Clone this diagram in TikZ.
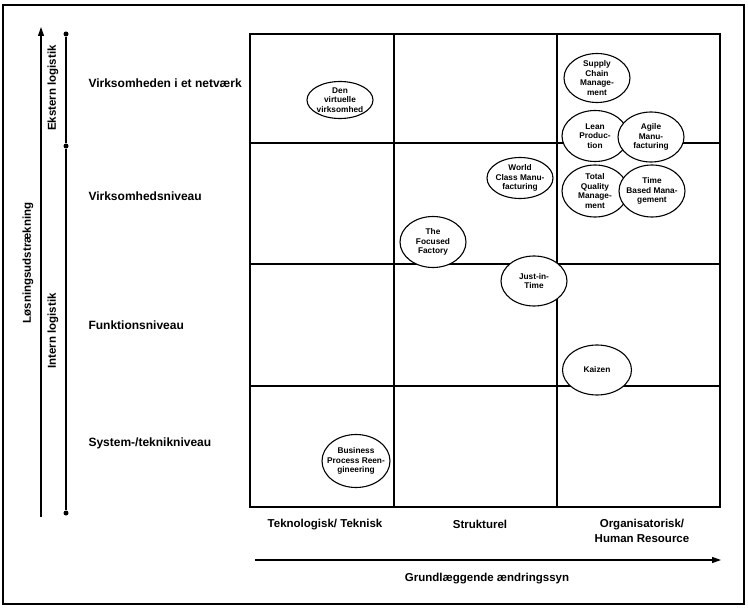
\documentclass[tikz,border=0pt]{standalone}
\usepackage{fontspec}
\setmainfont{Liberation Sans}
\usetikzlibrary{shapes.geometric,arrows.meta}
\begin{document}
\begin{tikzpicture}[x=1pt,y=-1pt,
    blob/.style = {draw, ellipse, fill=white, line width=1.1pt, inner sep=-9pt,
        minimum width=66pt, minimum height=51pt, align=center,
        font=\fontsize{8.3}{9.6}\selectfont\bfseries},
    lvl/.style = {anchor=west, font=\fontsize{12}{14}\selectfont\bfseries},
    col/.style = {align=center, font=\fontsize{11.5}{15}\selectfont\bfseries},
    side/.style = {rotate=90, font=\fontsize{11.5}{14}\selectfont\bfseries},
    gridline/.style = {line width=1.1pt},
    dot/.style = {circle, fill, inner sep=0pt, minimum size=5pt}]
    \useasboundingbox (0,0) rectangle (748,610);
    \draw[line width=1.8pt] (3,5) rectangle (744,604);
    % matrix
    \draw[gridline] (250,34) rectangle (720,507);
    \draw[gridline] (394,34) -- (394,507) (557,34) -- (557,507);
    \draw[gridline] (250,143) -- (720,143) (250,264) -- (720,264) (250,386) -- (720,386);
    % levels
    \node[lvl] (l1) at (85,83) {Virksomheden i et netværk};
    \node[lvl] (l2) at (85,196) {Virksomhedsniveau};
    \node[lvl] (l3) at (85,325) {Funktionsniveau};
    \node[lvl] (l4) at (85,443) {System-/teknikniveau};
    % side axis
    \coordinate (a0) at (41,517);
    \coordinate (a1) at (41,27);
    \draw[line width=1.1pt, -{Triangle[length=9pt,width=6pt]}] (a0) -- (a1);
    \node[side] (ls) at (28,263) {Løsningsudstrækning};
    \node[dot] (d1) at (66,34) {};
    \node[dot] (d2) at (66,146) {};
    \node[dot] (d3) at (66,513) {};
    \draw[line width=1.1pt] (d1) -- (d2) -- (d3);
    \node[side] (ek) at (53,88) {Ekstern logistik};
    \node[side] (in) at (53,331) {Intern logistik};
    % columns
    \node[col] (c1) at (325,525) {Teknologisk/ Teknisk};
    \node[col] (c2) at (480,524) {Strukturel};
    \node[col] (c3) at (642,531) {Organisatorisk/\\Human Resource};
    \coordinate (b0) at (255,560);
    \coordinate (b1) at (721,560);
    \draw[line width=1.1pt, -{Triangle[length=9pt,width=6pt]}] (b0) -- (b1);
    \node[col] (gr) at (487,579) {Grundlæggende ændringssyn};
    % concepts
    \node[blob, minimum height=37pt] (dvv) at (340,100) {Den\\virtuelle\\virksomhed};
    \node[blob, minimum height=49pt] (scm) at (597,78) {Supply\\Chain\\Manage-\\ment};
    \node[blob] (lp) at (595,136) {Lean\\Produc-\\tion};
    \node[blob, minimum height=50pt] (am) at (651,137) {Agile\\Manu-\\facturing};
    \node[blob, minimum height=41pt] (wcm) at (520,178) {World\\Class Manu-\\facturing};
    \node[blob, minimum height=52pt] (tqm) at (595,191) {Total\\Quality\\Manage-\\ment};
    \node[blob, minimum height=52pt] (tbm) at (652,191) {Time\\Based Mana-\\gement};
    \node[blob] (tff) at (433,242) {The\\Focused\\Factory};
    \node[blob, minimum height=50pt] (jit) at (534,281) {Just-in-\\Time};
    \node[blob, minimum width=69pt, minimum height=50pt] (kz) at (597,370) {Kaizen};
    \node[blob, minimum width=68pt, minimum height=53pt] (bpr) at (356,461) {Business\\Process Reen-\\gineering};
\end{tikzpicture}
\end{document}
